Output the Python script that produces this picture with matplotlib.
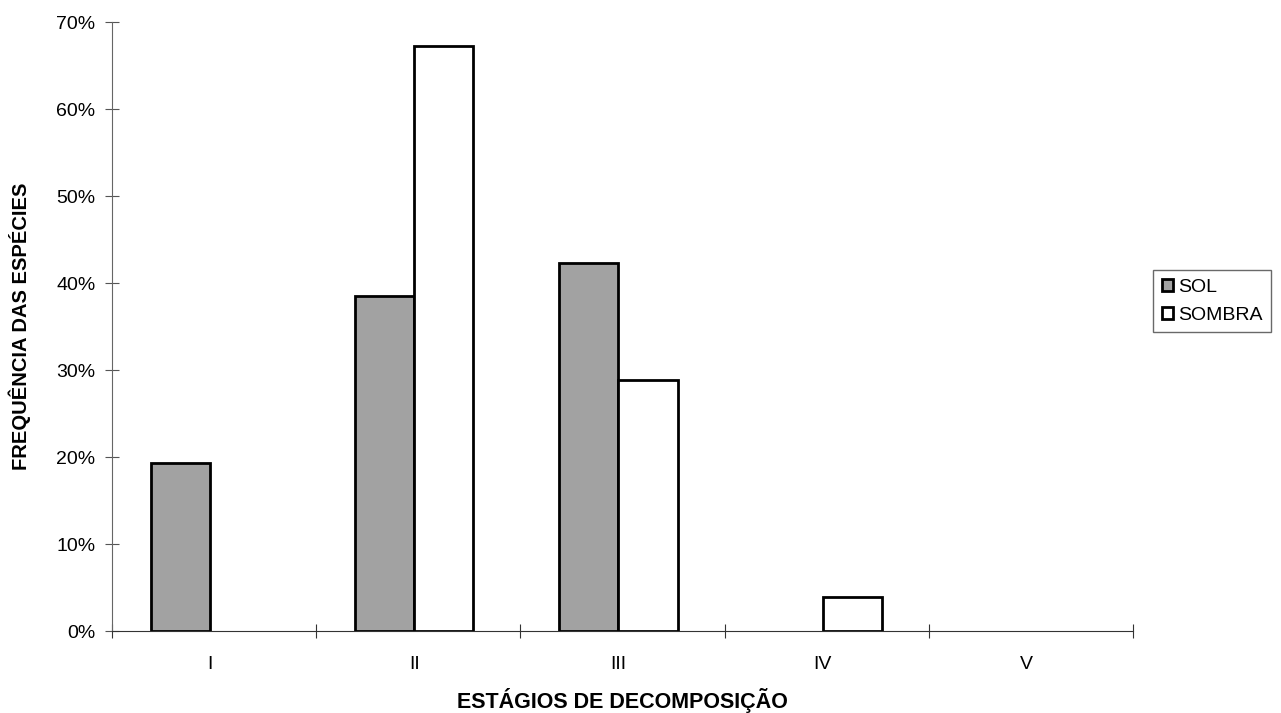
import numpy as np
from matplotlib import pyplot as plt
from matplotlib.ticker import PercentFormatter

stages = ["I", "II", "III", "IV", "V"]
sol = [19.3, 38.5, 42.3, 0, 0]
sombra = [0, 67.2, 28.9, 3.9, 0]

plt.rcParams["font.family"] = ["Liberation Sans", "DejaVu Sans"]

fig = plt.figure(figsize=(12.81, 7.13), dpi=100)
ax = fig.add_axes([0.0874, 0.115, 0.797, 0.854])

x = np.arange(len(stages))
w = 0.29
shift = -0.02
# Excel leaves empty categories blank, so zero bars are not drawn
for vals, off, fc, name in ((sol, -w / 2, "#a2a2a2", "SOL"), (sombra, w / 2, "white", "SOMBRA")):
    keep = [i for i, v in enumerate(vals) if v > 0]
    ax.bar(x[keep] + off + shift, [vals[i] for i in keep], w,
           color=fc, edgecolor="black", linewidth=2, label=name)

ax.set_xlim(-0.5, len(stages) - 0.5)
ax.set_ylim(0, 70)
ax.set_yticks(range(0, 71, 10))
ax.yaxis.set_major_formatter(PercentFormatter(decimals=0))

# tick marks on category boundaries, labels in the middle
ax.set_xticks(np.arange(len(stages) + 1) - 0.5)
ax.set_xticklabels([])
ax.set_xticks(x - 0.02, minor=True)
ax.set_xticklabels(stages, minor=True)
ax.tick_params(axis="x", which="minor", length=0, pad=18, labelsize=14)
ax.tick_params(axis="x", which="major", direction="inout", length=10, color="#333333")
ax.tick_params(axis="y", direction="inout", length=10, color="#555555", labelsize=14, pad=7)

for side in ("top", "right"):
    ax.spines[side].set_visible(False)
ax.spines["left"].set_color("#666666")
ax.spines["bottom"].set_color("#333333")

fig.text(0.486, 0.018, "ESTÁGIOS DE DECOMPOSIÇÃO", fontsize=15.5, fontweight="bold",
         ha="center", va="center")
ax.set_ylabel("FREQUÊNCIA DAS ESPÉCIES", fontsize=14.5, fontweight="bold", labelpad=18)

leg = fig.legend(loc="upper left", bbox_to_anchor=(0.9, 0.621), fontsize=14,
                 frameon=True, fancybox=False, edgecolor="#444444",
                 handlelength=0.6, handleheight=0.6, handletextpad=0.25,
                 borderpad=0.45, labelspacing=0.55, borderaxespad=0)
leg.get_frame().set_linewidth(1)

fig.savefig("out.png", dpi=100)
